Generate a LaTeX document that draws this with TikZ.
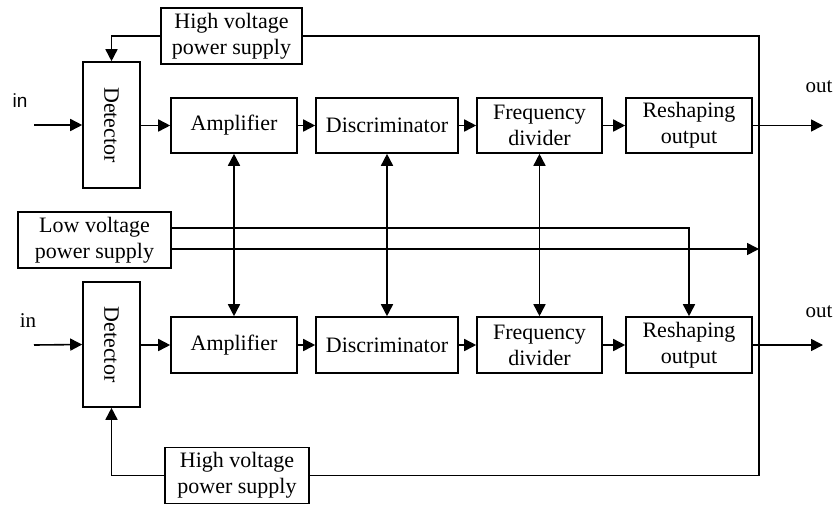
\documentclass[tikz,border=0pt]{standalone}
\usepackage{fontspec}
\setmainfont{Liberation Serif}
\newfontfamily\arialfont{Liberation Sans}
\usetikzlibrary{arrows.meta}
\begin{document}
\begin{tikzpicture}[x=1pt,y=-1pt,
  line width=1.6pt,
  blk/.style={draw, line width=1.6pt, inner sep=0pt, align=center,
    font=\fontsize{22}{26}\selectfont},
  lbl/.style={inner sep=0pt, font=\fontsize{21}{24}\selectfont},
  arr/.style={-{Triangle[length=12pt,width=12pt]}},
  darr/.style={{Triangle[length=12pt,width=12pt]}-{Triangle[length=12pt,width=12pt]}}]
\useasboundingbox (0,0) rectangle (834,504);
% top row
\node[blk, minimum width=141pt, minimum height=56pt] (hv1) at (231.5,36) {High voltage\\power supply};
\node[blk, minimum width=57pt, minimum height=126pt] (det1) at (111.5,125) {\rotatebox{-90}{Detector}};
\node[blk, minimum width=126pt, minimum height=55pt] (amp1) at (234,125.5) {Amplifier};
\node[blk, minimum width=142pt, minimum height=55pt] (dis1) at (387,125.5) {Discriminator};
\node[blk, minimum width=125pt, minimum height=55pt] (fd1) at (539.5,125.5) {Frequency\\divider};
\node[blk, minimum width=126pt, minimum height=55pt] (rs1) at (689,125.5) {Reshaping\\output};
% low voltage
\node[blk, minimum width=153pt, minimum height=56pt] (lv) at (94.5,240) {Low voltage\\power supply};
% bottom row
\node[blk, minimum width=57pt, minimum height=125pt] (det2) at (111.5,344.5) {\rotatebox{-90}{Detector}};
\node[blk, minimum width=126pt, minimum height=56pt] (amp2) at (234,345) {Amplifier};
\node[blk, minimum width=142pt, minimum height=56pt] (dis2) at (387,345) {Discriminator};
\node[blk, minimum width=125pt, minimum height=56pt] (fd2) at (539.5,345) {Frequency\\divider};
\node[blk, minimum width=126pt, minimum height=56pt] (rs2) at (689,345) {Reshaping\\output};
\node[blk, minimum width=144pt, minimum height=56pt] (hv2) at (237,475.5) {High voltage\\power supply};
% labels
\node[lbl, font=\arialfont\fontsize{19}{22}\selectfont] (inA) at (20,101) {in};
\node[lbl] (inB) at (28,321) {in};
\node[lbl] (outA) at (819,87) {out};
\node[lbl] (outB) at (819,312) {out};
% coordinates
\coordinate (i1) at (34,125);
\coordinate (i2) at (34,345);
\coordinate (o1) at (823,125.5);
\coordinate (o2) at (823,345);
\coordinate (rc) at (759,36);
\coordinate (lvA) at (lv.east |- 0,228);
\coordinate (lvB) at (lv.east |- 0,249);
\coordinate (lvBend) at (759,249);
% signal chains
\draw[arr] (i1) -- (det1.west);
\draw[arr] (det1.east |- amp1.west) -- (amp1.west);
\draw[arr] (amp1) -- (dis1);
\draw[arr] (dis1) -- (fd1);
\draw[arr] (fd1) -- (rs1);
\draw[arr] (rs1.east) -- (o1);
\draw[arr] (i2) -- (det2.west);
\draw[arr] (det2.east |- amp2.west) -- (amp2.west);
\draw[arr] (amp2) -- (dis2);
\draw[arr] (dis2) -- (fd2);
\draw[arr] (fd2) -- (rs2);
\draw[arr] (rs2.east) -- (o2);
% vertical double arrows
\draw[darr] (amp1.south) -- (amp2.north);
\draw[darr] (dis1.south) -- (dis2.north);
\draw[darr] (fd1.south) -- (fd2.north);
% low voltage lines
\draw[arr] (lvA) -| (rs2.north);
\draw[arr] (lvB) -- (lvBend);
% high voltage
\draw[arr] (hv1.west) -| (det1.north);
\draw[arr] (hv2.west) -| (det2.south);
\draw (hv1.east) -| (rc) |- (hv2.east);
\end{tikzpicture}
\end{document}
